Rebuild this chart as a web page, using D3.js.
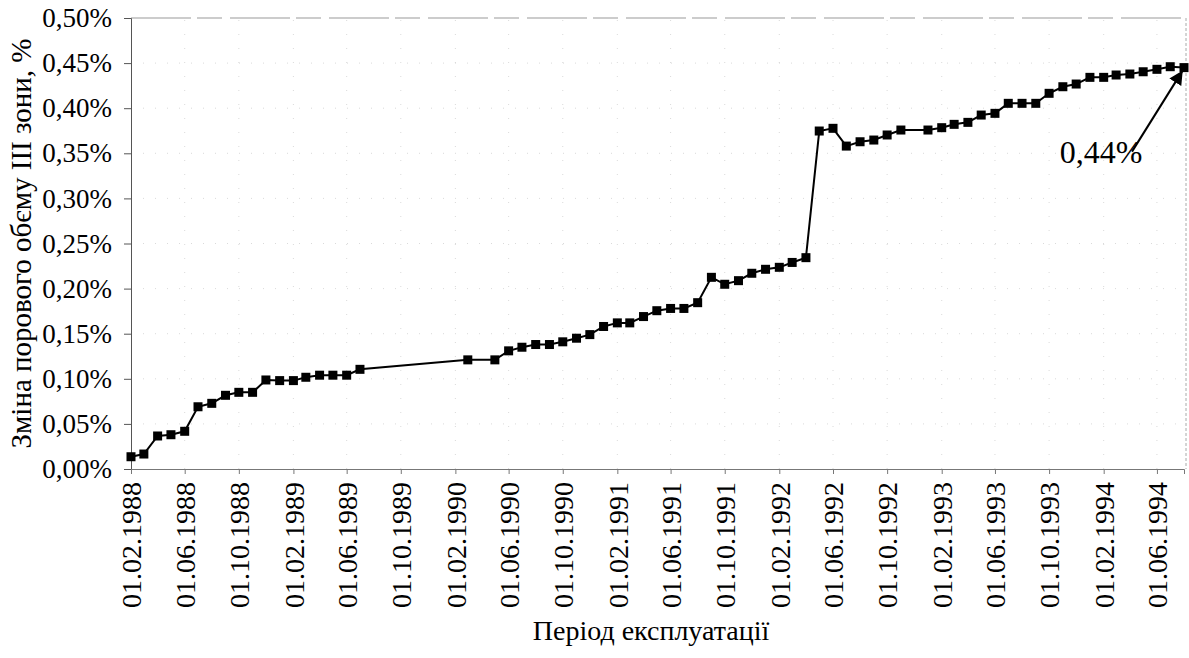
<!DOCTYPE html>
<html>
<head>
<meta charset="utf-8">
<script src="https://cdn.jsdelivr.net/npm/d3@7"></script>
<style>
  body { margin: 0; background: #fff; font-family: "Liberation Serif", serif; }
</style>
</head>
<body>
<script>
// monthly observations (month, value in %)
const months = [
  "1988-02", "1988-03", "1988-04", "1988-05", "1988-06", "1988-07", "1988-08", "1988-09",
  "1988-10", "1988-11", "1988-12", "1989-01", "1989-02", "1989-03", "1989-04", "1989-05",
  "1989-06", "1989-07",
  "1990-03", "1990-05", "1990-06", "1990-07", "1990-08", "1990-09", "1990-10", "1990-11",
  "1990-12", "1991-01", "1991-02", "1991-03", "1991-04", "1991-05", "1991-06", "1991-07",
  "1991-08", "1991-09", "1991-10", "1991-11", "1991-12", "1992-01", "1992-02", "1992-03",
  "1992-04", "1992-05", "1992-06", "1992-07", "1992-08", "1992-09", "1992-10", "1992-11",
  "1993-01", "1993-02", "1993-03", "1993-04", "1993-05", "1993-06", "1993-07", "1993-08",
  "1993-09", "1993-10", "1993-11", "1993-12", "1994-01", "1994-02", "1994-03", "1994-04",
  "1994-05", "1994-06", "1994-07", "1994-08"
];
const values = [
  0.0136, 0.0166, 0.0366, 0.038, 0.0418, 0.069, 0.0728, 0.0817,
  0.085, 0.085, 0.0987, 0.098, 0.098, 0.1017, 0.104, 0.104,
  0.104, 0.1105,
  0.121, 0.121, 0.131, 0.135, 0.138, 0.138, 0.141, 0.145,
  0.149, 0.158, 0.162, 0.162, 0.169, 0.1755, 0.178, 0.178,
  0.1844, 0.2125, 0.2048, 0.2088, 0.217, 0.2214, 0.2236, 0.229,
  0.2343, 0.3747, 0.3777, 0.358, 0.3628, 0.3647, 0.3703, 0.3758,
  0.3758, 0.3784, 0.3821, 0.3843, 0.3924, 0.3943, 0.4054, 0.4054,
  0.4054, 0.4165, 0.4238, 0.4268, 0.4342, 0.4342, 0.4368, 0.4379,
  0.4404, 0.4431, 0.446, 0.445
];
const yTicks = [0, 0.05, 0.10, 0.15, 0.20, 0.25, 0.30, 0.35, 0.40, 0.45, 0.50];
const xTickLabels = [
  "01.02.1988", "01.06.1988", "01.10.1988", "01.02.1989", "01.06.1989", "01.10.1989",
  "01.02.1990", "01.06.1990", "01.10.1990", "01.02.1991", "01.06.1991", "01.10.1991",
  "01.02.1992", "01.06.1992", "01.10.1992", "01.02.1993", "01.06.1993", "01.10.1993",
  "01.02.1994", "01.06.1994"
];
const annotationText = "0,44%";
const yTitle = "Зміна порового обєму ІІІ зони, %";
const xTitle = "Період експлуатації";

const width = 1189, height = 658;
const margin = { top: 18, right: 5, bottom: 189, left: 131 };
const FONT = 'Liberation Serif';

const parseMonth = d3.timeParse("%Y-%m");
const parseLabel = d3.timeParse("%d.%m.%Y");
const data = months.map((m, i) => ({ date: parseMonth(m), value: values[i] }));

const svg = d3.select('body').append('svg')
    .attr('width', width)
    .attr('height', height);

const xScale = d3.scaleTime()
    .domain([parseMonth("1988-02"), parseMonth("1994-08")])
    .range([margin.left, 1184]);
const yScale = d3.scaleLinear()
    .domain([0, 0.5])
    .range([height - margin.bottom, margin.top]);

const comma = d3.formatLocale({ decimal: ",", thousands: " ", grouping: [3], currency: ["", ""] });
const pct = v => comma.format(".2f")(v) + "%";

const plotRight = 1186;

// faint scanned-looking gridlines
svg.append('g').selectAll('line').data(yTicks.slice(1, -1))
    .enter().append('line')
    .attr('x1', margin.left).attr('x2', plotRight)
    .attr('y1', d => yScale(d)).attr('y2', d => yScale(d))
    .attr('stroke', '#d0d0d0').attr('stroke-width', 0.8)
    .attr('stroke-dasharray', '1 11');
svg.append('g').selectAll('line').data(xTickLabels.slice(1))
    .enter().append('line')
    .attr('x1', d => xScale(parseLabel(d))).attr('x2', d => xScale(parseLabel(d)))
    .attr('y1', yScale(0)).attr('y2', yScale(0.5))
    .attr('stroke', '#d0d0d0').attr('stroke-width', 0.8)
    .attr('stroke-dasharray', '1 13');

// plot frame: top and right
svg.append('line')
    .attr('x1', margin.left).attr('x2', plotRight)
    .attr('y1', yScale(0.5)).attr('y2', yScale(0.5))
    .attr('stroke', '#999').attr('stroke-width', 1)
    .attr('stroke-dasharray', '60 6 25 8');
svg.append('line')
    .attr('x1', plotRight).attr('x2', plotRight)
    .attr('y1', yScale(0.5)).attr('y2', yScale(0))
    .attr('stroke', '#aaa').attr('stroke-width', 1)
    .attr('stroke-dasharray', '3 2');

// axes
const yAxis = d3.axisLeft(yScale).tickValues(yTicks).tickFormat(pct).tickSize(7).tickPadding(12);
const xAxis = d3.axisBottom(xScale)
    .tickValues(xTickLabels.map(parseLabel))
    .tickFormat(d3.timeFormat("%d.%m.%Y"))
    .tickSize(5).tickPadding(10);

const gy = svg.append('g')
    .attr('transform', `translate(${margin.left}, 0)`)
    .call(yAxis);
gy.attr('font-family', FONT).attr('font-size', 27);
gy.select('.domain').attr('stroke', '#555');
gy.selectAll('.tick line').attr('stroke', '#555');

const gx = svg.append('g')
    .attr('transform', `translate(0, ${yScale(0)})`)
    .call(xAxis);
gx.attr('font-family', FONT).attr('font-size', 28);
gx.select('.domain').attr('stroke', '#777');
gx.selectAll('.tick line').attr('stroke', '#777');
gx.selectAll('text')
    .attr('transform', 'rotate(-90)')
    .attr('text-anchor', 'end')
    .attr('x', -13)
    .attr('y', 0)
    .attr('dy', '0.35em');

// series line + square markers
const line = d3.line()
    .x(d => xScale(d.date))
    .y(d => yScale(d.value));
svg.append('path')
    .datum(data)
    .attr('fill', 'none')
    .attr('stroke', '#000')
    .attr('stroke-width', 2)
    .attr('d', line);
svg.selectAll('rect.mk').data(data)
    .enter().append('rect')
    .attr('class', 'mk')
    .attr('x', d => xScale(d.date) - 4.5)
    .attr('y', d => yScale(d.value) - 4.5)
    .attr('width', 9)
    .attr('height', 9)
    .attr('fill', '#000');

// annotation arrow to the last point
const last = data[data.length - 1];
svg.append('defs').append('marker')
    .attr('id', 'arrow')
    .attr('viewBox', '0 0 10 10')
    .attr('refX', 9).attr('refY', 5)
    .attr('markerWidth', 7).attr('markerHeight', 7)
    .attr('orient', 'auto')
    .append('path').attr('d', 'M0,0 L10,5 L0,10 z').attr('fill', '#000');
svg.append('line')
    .attr('x1', xScale(last.date) - 52).attr('y1', yScale(last.value) + 84)
    .attr('x2', xScale(last.date) - 2).attr('y2', yScale(last.value) + 4)
    .attr('stroke', '#000').attr('stroke-width', 2)
    .attr('marker-end', 'url(#arrow)');
svg.append('text')
    .attr('x', xScale(last.date) - 83)
    .attr('y', yScale(last.value) + 95)
    .attr('text-anchor', 'middle')
    .attr('font-family', FONT)
    .attr('font-size', 32)
    .text(annotationText);

// titles
svg.append('text')
    .attr('transform', `translate(31, ${(yScale(0) + yScale(0.5)) / 2}) rotate(-90)`)
    .attr('text-anchor', 'middle')
    .attr('font-family', FONT)
    .attr('font-size', 29)
    .text(yTitle);
svg.append('text')
    .attr('x', 651)
    .attr('y', 640)
    .attr('text-anchor', 'middle')
    .attr('font-family', FONT)
    .attr('font-size', 28)
    .text(xTitle);
</script>
</body>
</html>
